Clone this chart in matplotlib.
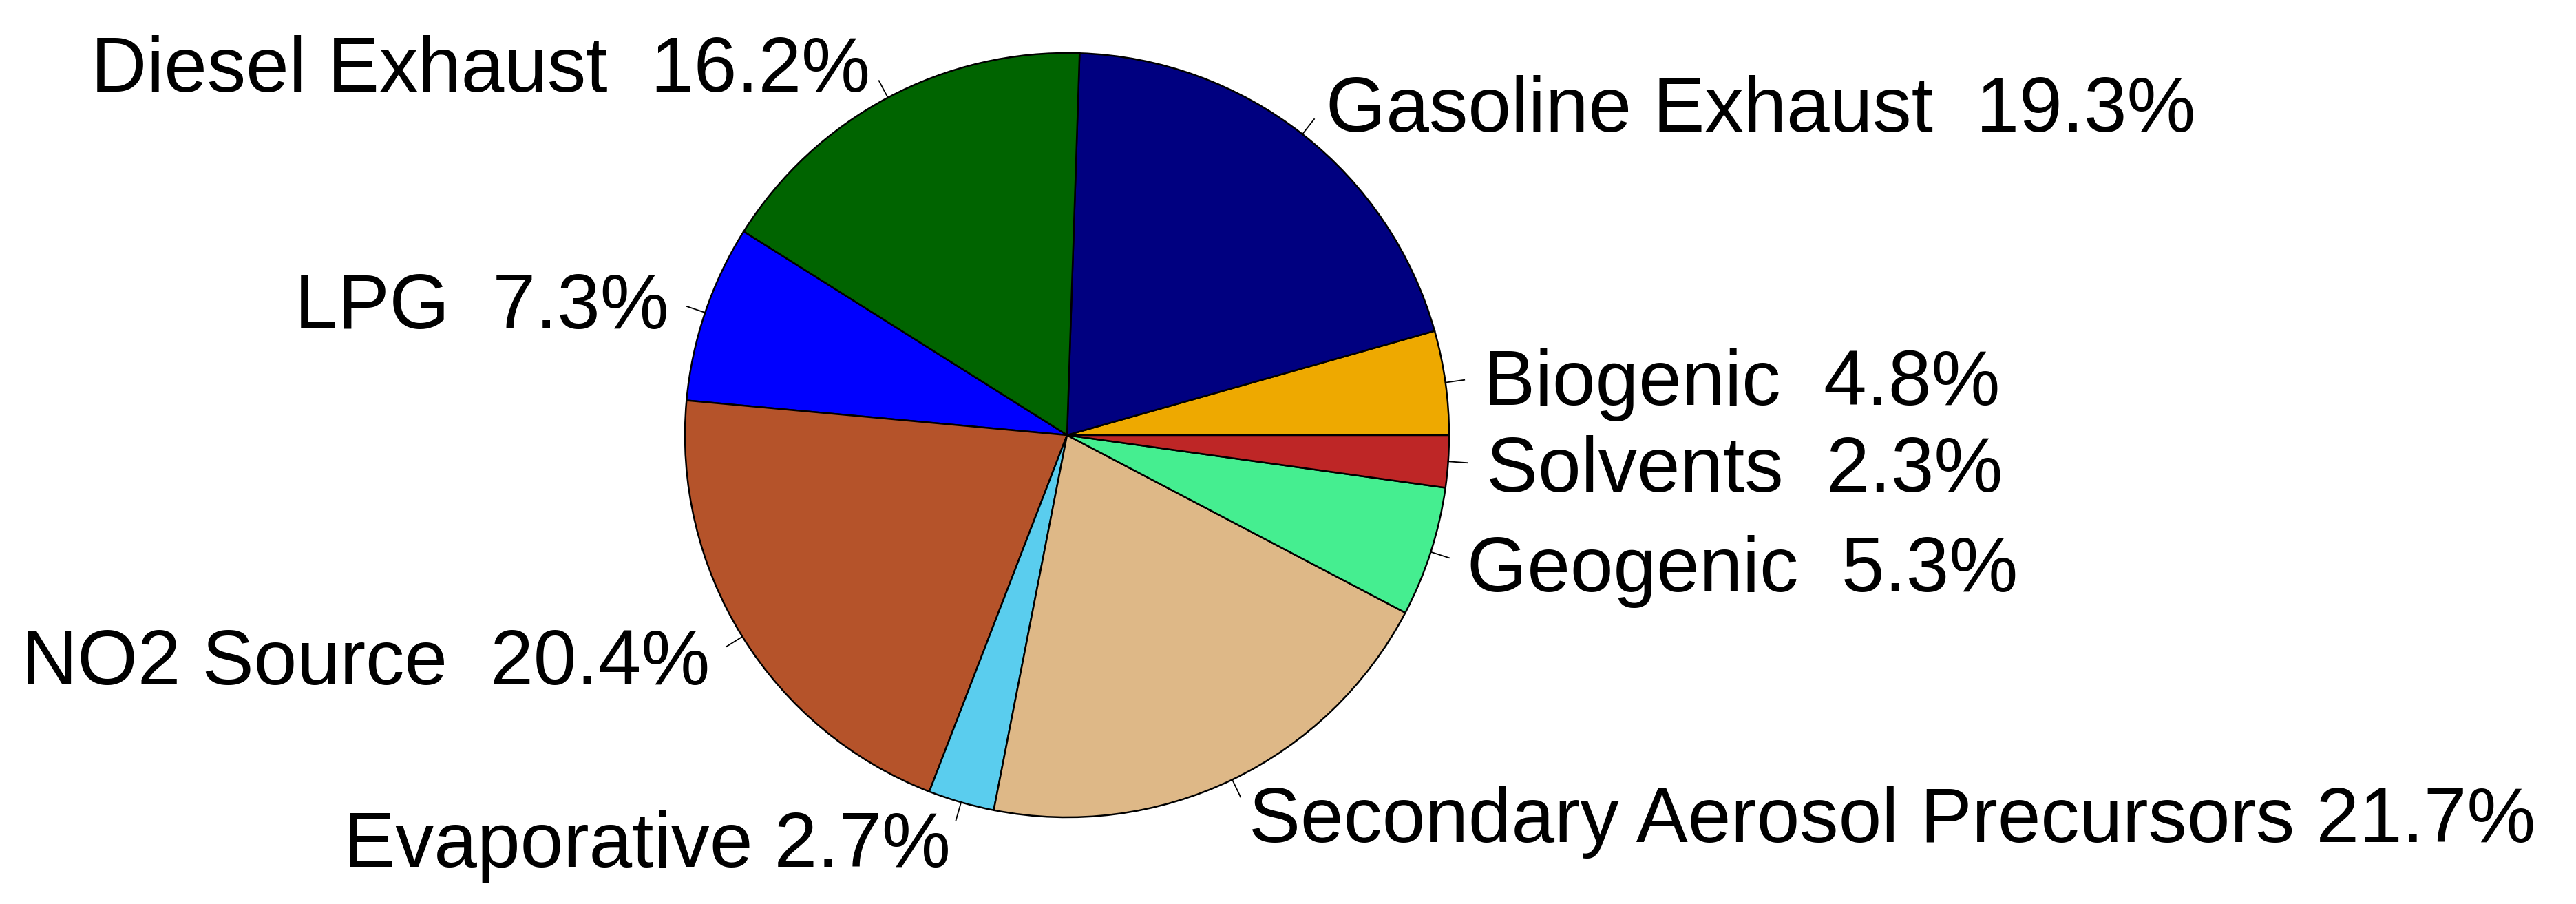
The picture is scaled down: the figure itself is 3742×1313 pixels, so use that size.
import numpy as np
import matplotlib
matplotlib.use('Agg')
import matplotlib.pyplot as plt

# sources, counterclockwise from 3 o'clock
sources = ['Biogenic', 'Gasoline Exhaust', 'Diesel Exhaust', 'LPG', 'NO2 Source',
           'Evaporative', 'Secondary Aerosol Precursors', 'Geogenic', 'Solvents']
# percentages printed in the labels
label_pct = ['4.8%', '19.3%', '16.2%', '7.3%', '20.4%', '2.7%', '21.7%', '5.3%', '2.3%']
# gap between name and value in each label
label_sep = ['  ', '  ', '  ', '  ', '  ', ' ', ' ', '  ', '  ']
# slice shares as drawn
slice_share = [4.4, 20.1, 16.6, 7.5, 20.6, 2.8, 20.4, 5.5, 2.2]
colors = ['#EEA900', '#000080', '#006400', '#0000FF', '#B5532A',
          '#5ACDEE', '#DEB887', '#45EE90', '#BE2626']

W, H = 3742, 1313
fig = plt.figure(figsize=(W / 100, H / 100), dpi=100, facecolor='white')
ax = fig.add_axes([0, 0, 1, 1])

cx, cy, r = 1550, H - 632, 555
wedges, _ = ax.pie(slice_share, colors=colors, startangle=0, counterclock=True,
                   center=(cx, cy), radius=r, frame=True,
                   wedgeprops=dict(edgecolor='black', linewidth=1.8))

fs = 81
for w, name, sep, pct in zip(wedges, sources, label_sep, label_pct):
    a = np.deg2rad((w.theta1 + w.theta2) / 2)
    ux, uy = np.cos(a), np.sin(a)
    ax.plot([cx + r * ux, cx + 1.05 * r * ux], [cy + r * uy, cy + 1.05 * r * uy],
            color='black', lw=1.3)
    ax.annotate(name + sep + pct, (cx + 1.1 * r * ux, cy + 1.1 * r * uy),
                xytext=(0, -0.358 * fs), textcoords='offset points',
                ha='right' if ux < 0 else 'left', va='baseline',
                fontsize=fs, family=['Liberation Sans', 'DejaVu Sans'])

ax.set_xlim(0, W)
ax.set_ylim(0, H)
ax.set_aspect('equal')
ax.axis('off')

fig.savefig('out.png', dpi=100, facecolor='white')
